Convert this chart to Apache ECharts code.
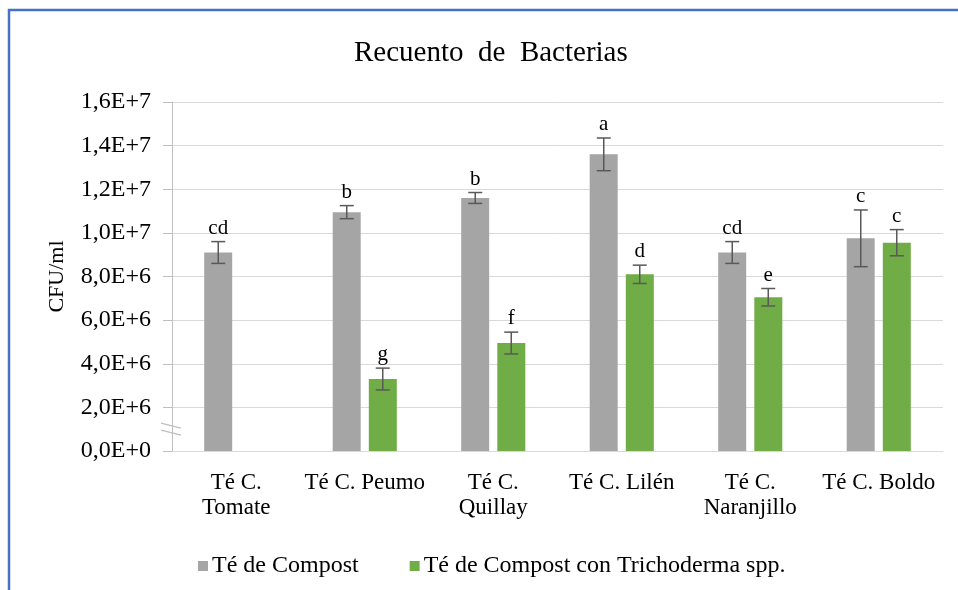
<!DOCTYPE html>
<html>
<head>
<meta charset="utf-8">
<script src="https://cdn.jsdelivr.net/npm/echarts@6/dist/echarts.min.js"></script>
<style>
  html, body { margin: 0; padding: 0; background: #fff; }
  #chart { width: 958px; height: 590px; }
</style>
</head>
<body>
<div id="chart"></div>
<script>
const categories = ['Té C.\nTomate', 'Té C. Peumo', 'Té C.\nQuillay', 'Té C. Lilén', 'Té C.\nNaranjillo', 'Té C. Boldo'];
const compost = [9.1e6, 10.95e6, 11.6e6, 13.6e6, 9.1e6, 9.75e6];
const compostErr = [0.5e6, 0.3e6, 0.25e6, 0.75e6, 0.5e6, 1.3e6];
const compostLetters = ['cd', 'b', 'b', 'a', 'cd', 'c'];
const tricho = [null, 3.3e6, 4.95e6, 8.1e6, 7.05e6, 9.55e6];
const trichoErr = [null, 0.5e6, 0.5e6, 0.42e6, 0.4e6, 0.6e6];
const trichoLetters = ['', 'g', 'f', 'd', 'e', 'c'];

const FONT = 'Liberation Serif';
const barW = 28;
const gapPx = 8;

const chart = echarts.init(document.getElementById('chart'));

function sci(v) {
  if (v === 0) return '0,0E+0';
  const e = Math.floor(Math.log10(v) + 1e-9);
  const m = (v / Math.pow(10, e)).toFixed(1).replace('.', ',');
  return m + 'E+' + e;
}

// error bars + significance letters, shifted to sit on their bar
function errSeries(name, vals, errs, letters, side) {
  const off = side * (barW + gapPx) / 2;
  return {
    name: name + '_err',
    type: 'custom',
    z: 5,
    silent: true,
    data: vals.map((v, i) => v == null ? [i, NaN, NaN] : [i, v, errs[i]]),
    encode: { x: 0, y: 1 },
    renderItem: (params, api) => {
      const v = api.value(1);
      if (isNaN(v)) return;
      const e = api.value(2);
      const i = api.value(0);
      const hi = api.coord([i, v + e]);
      const lo = api.coord([i, v - e]);
      const x = hi[0] + off;
      const cap = 7;
      const st = { stroke: '#595959', lineWidth: 1.5 };
      return {
        type: 'group',
        children: [
          { type: 'line', shape: { x1: x, y1: hi[1], x2: x, y2: lo[1] }, style: st },
          { type: 'line', shape: { x1: x - cap, y1: hi[1], x2: x + cap, y2: hi[1] }, style: st },
          { type: 'line', shape: { x1: x - cap, y1: lo[1], x2: x + cap, y2: lo[1] }, style: st },
          {
            type: 'text',
            style: {
              x: x, y: hi[1] - 3, text: letters[params.dataIndex],
              align: 'center', verticalAlign: 'bottom',
              font: '21px "' + FONT + '"', fill: '#000'
            }
          }
        ]
      };
    }
  };
}

const option = {
  animation: false,
  textStyle: { fontFamily: FONT },
  title: {
    text: 'Recuento  de  Bacterias',
    left: 349,
    top: 34,
    textStyle: { fontFamily: FONT, fontSize: 29, fontWeight: 'normal', color: '#000' }
  },
  legend: {
    data: ['Té de Compost', 'Té de Compost con Trichoderma spp.'],
    left: 193,
    top: 549,
    itemWidth: 10,
    itemHeight: 10,
    itemGap: 51,
    icon: 'rect',
    textStyle: { fontFamily: FONT, fontSize: 24, color: '#000', padding: [0, 0, 0, -1] }
  },
  grid: { left: 172, right: 15, top: 102, bottom: 139 },
  xAxis: {
    type: 'category',
    data: categories,
    axisLine: { lineStyle: { color: '#D9D9D9' } },
    axisTick: { show: false },
    axisLabel: {
      fontFamily: FONT, fontSize: 23, color: '#000', lineHeight: 25, margin: 19, interval: 0
    }
  },
  yAxis: {
    type: 'value',
    min: 0,
    max: 1.6e7,
    interval: 2e6,
    name: 'CFU/ml',
    nameLocation: 'middle',
    nameGap: 104,
    nameTextStyle: { fontFamily: FONT, fontSize: 22, color: '#000' },
    axisLine: { show: true, lineStyle: { color: '#BFBFBF' } },
    axisTick: { show: true, length: 9, lineStyle: { color: '#BFBFBF' } },
    splitLine: { lineStyle: { color: '#D9D9D9' } },
    axisLabel: {
      fontFamily: FONT, fontSize: 24, color: '#000', margin: 21,
      formatter: sci
    }
  },
  series: [
    {
      name: 'Té de Compost',
      type: 'bar',
      barWidth: barW,
      barGap: (gapPx / barW * 100).toFixed(0) + '%',
      itemStyle: { color: '#A5A5A5' },
      data: compost
    },
    {
      name: 'Té de Compost con Trichoderma spp.',
      type: 'bar',
      barWidth: barW,
      itemStyle: { color: '#70AD47' },
      data: tricho.map(v => v == null ? '-' : v)
    },
    errSeries('compost', compost, compostErr, compostLetters, -1),
    errSeries('tricho', tricho, trichoErr, trichoLetters, 1)
  ]
};

chart.setOption(option);

// decorative axis-break mark and outer frame
const ax = chart.convertToPixel({ xAxisIndex: 0 }, 0) - 128.5 / 2;
const yb = chart.convertToPixel({ yAxisIndex: 0 }, 1.0e6);
chart.setOption({
  graphic: [
    { type: 'line', shape: { x1: ax - 11, y1: yb - 6, x2: ax + 9, y2: yb - 1 }, style: { stroke: '#BFBFBF', lineWidth: 1.2 } },
    { type: 'line', shape: { x1: ax - 11, y1: yb + 1, x2: ax + 9, y2: yb + 6 }, style: { stroke: '#BFBFBF', lineWidth: 1.2 } },
    { type: 'rect', shape: { x: 9, y: 10, width: 970, height: 600 }, style: { fill: null, stroke: '#4472C4', lineWidth: 2.5 } }
  ]
});
</script>
</body>
</html>
